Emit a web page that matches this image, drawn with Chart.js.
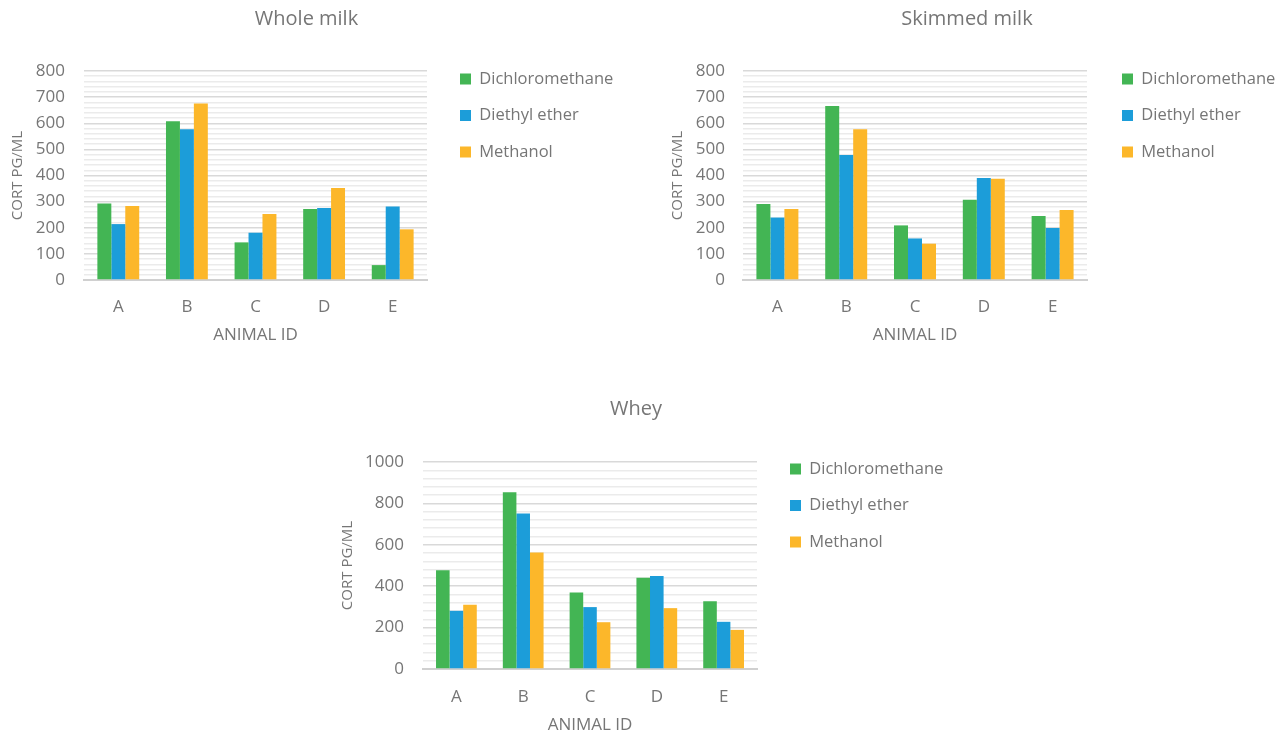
<!DOCTYPE html>
<html>
<head>
<meta charset="utf-8">
<title>CORT by extraction solvent</title>
<script src="https://cdn.jsdelivr.net/npm/chart.js@4/dist/chart.umd.min.js"></script>
<style>
  html, body { margin: 0; padding: 0; background: #ffffff; width: 1285px; height: 735px; overflow: hidden; position: relative; }
  canvas { position: absolute; }
</style>
</head>
<body>
<canvas id="wholeMilk"></canvas>
<canvas id="skimmedMilk"></canvas>
<canvas id="whey"></canvas>
<script>
// Categories and series
const animalIds = ['A', 'B', 'C', 'D', 'E'];
const solvents = ['Dichloromethane', 'Diethyl ether', 'Methanol'];

// CORT (pg/mL) — whole milk
const wholeDichloromethane = [293, 608, 144, 272, 57];
const wholeDiethylEther    = [214, 577, 181, 276, 281];
const wholeMethanol        = [283, 676, 253, 352, 194];

// CORT (pg/mL) — skimmed milk
const skimmedDichloromethane = [291, 666, 209, 307, 245];
const skimmedDiethylEther    = [239, 478, 159, 390, 199];
const skimmedMethanol        = [272, 577, 139, 388, 268];

// CORT (pg/mL) — whey
const wheyDichloromethane = [477, 854, 369, 441, 327];
const wheyDiethylEther    = [281, 751, 299, 449, 228];
const wheyMethanol        = [310, 563, 226, 294, 189];

// Value axis ranges: [max, labelled step, gridline step]
const milkAxis = [800, 100, 20];
const wheyAxis = [1000, 200, 40];

const palette = ['#43b554', '#1c9dd9', '#fcb72a'];
const TEXT = '#767676';
const FONT = '"Open Sans", "Noto Sans", sans-serif';

function buildChart(id, g, titleText, series, axis) {
  const [yMax, yMajor, yMinor] = axis;
  const canvas = document.getElementById(id);
  canvas.width = g.cw;
  canvas.height = g.ch;
  canvas.style.left = g.cl + 'px';
  canvas.style.top = g.ct + 'px';

  const titleSize = 20, titleLH = titleSize * 1.2;
  const yTitleSize = 15, yTitleLH = yTitleSize * 1.2;
  const tickSize = 17;
  const xTitleSize = 17, xTitleLH = xTitleSize * 1.2;
  const legendPad = 20, legendSize = 16.5;

  return new Chart(canvas, {
    type: 'bar',
    data: {
      labels: animalIds,
      datasets: series.map((values, i) => ({
        label: solvents[i],
        data: values,
        backgroundColor: palette[i],
        borderWidth: 0,
        categoryPercentage: 0.61,
        barPercentage: 1,
        xAxisID: 'x',
        yAxisID: 'y'
      }))
    },
    options: {
      responsive: false,
      animation: false,
      layout: { padding: 0 },
      plugins: {
        title: {
          display: true,
          text: titleText,
          color: TEXT,
          font: { family: FONT, size: titleSize, weight: 'normal' },
          padding: { top: g.titleY - g.ct - titleLH / 2, bottom: g.pt - g.titleY - titleLH / 2 }
        },
        legend: {
          position: 'chartArea',
          align: 'start',
          labels: {
            color: TEXT,
            font: { family: FONT, size: legendSize },
            boxWidth: 11,
            boxHeight: 11,
            padding: legendPad
          }
        },
        tooltip: { enabled: false }
      },
      scales: {
        x: {
          grid: { display: false },
          border: { display: true, color: '#d0d0d0', width: 2 },
          ticks: {
            color: TEXT,
            font: { family: FONT, size: tickSize },
            padding: g.xTickY - g.pb - 1.04 * tickSize,
            maxRotation: 0
          },
          title: {
            display: true,
            text: 'ANIMAL ID',
            color: TEXT,
            font: { family: FONT, size: xTitleSize },
            padding: { top: 0, bottom: g.ct + g.ch - g.xTitleY - xTitleLH / 2 }
          },
          afterFit: s => { s.height = g.ct + g.ch - g.pb; }
        },
        y: {
          min: 0,
          max: yMax,
          grid: {
            color: c => (c.tick && c.tick.value % yMajor === 0) ? '#d9d9d9' : '#ebebeb',
            lineWidth: 1.5,
            drawTicks: false
          },
          border: { display: false },
          ticks: {
            stepSize: yMinor,
            maxTicksLimit: 100,
            autoSkip: false,
            color: TEXT,
            font: { family: FONT, size: tickSize },
            padding: g.pl - g.yTickX,
            callback: v => (v % yMajor === 0 ? String(v) : '')
          },
          title: {
            display: true,
            text: 'CORT PG/ML',
            color: TEXT,
            font: { family: FONT, size: yTitleSize },
            padding: { top: g.yTitleX - g.cl - yTitleLH / 2, bottom: 0 }
          },
          afterFit: s => { s.width = g.pl - g.cl; }
        },
        // empty right-hand axis that reserves room for the legend column
        gap: {
          type: 'linear',
          position: 'right',
          display: true,
          grid: { display: false },
          border: { display: false },
          ticks: { display: false },
          afterFit: s => { s.width = g.cl + g.cw - g.pr; }
        }
      }
    },
    plugins: [{
      id: 'legendPlacement',
      afterLayout(chart) {
        const lg = chart.legend;
        if (!lg) return;
        lg.left = g.legendX - g.cl - legendPad;
        lg.top = g.legendY - g.ct - legendPad - legendSize / 2;
        lg.width = g.cl + g.cw - lg.left;
        lg.height = 160;
        lg.right = lg.left + lg.width;
        lg.bottom = lg.top + lg.height;
      }
    }]
  });
}

buildChart('wholeMilk', {
  cl: -10, cw: 633, ct: 0, ch: 360, titleY: 19,
  pl: 84, pr: 427, pt: 71, pb: 280,
  yTickX: 65, yTitleX: 18, xTickY: 307, xTitleY: 335,
  legendX: 460, legendY: 79
}, 'Whole milk', [wholeDichloromethane, wholeDiethylEther, wholeMethanol], milkAxis);

buildChart('skimmedMilk', {
  cl: 649, cw: 636, ct: 0, ch: 360, titleY: 19,
  pl: 743, pr: 1087, pt: 71, pb: 280,
  yTickX: 725, yTitleX: 678, xTickY: 307, xTitleY: 335,
  legendX: 1122, legendY: 79
}, 'Skimmed milk', [skimmedDichloromethane, skimmedDiethylEther, skimmedMethanol], milkAxis);

buildChart('whey', {
  cl: 320, cw: 632, ct: 390, ch: 345, titleY: 409,
  pl: 423, pr: 757, pt: 462, pb: 669,
  yTickX: 404, yTitleX: 348, xTickY: 697, xTitleY: 725,
  legendX: 790, legendY: 469
}, 'Whey', [wheyDichloromethane, wheyDiethylEther, wheyMethanol], wheyAxis);
</script>
</body>
</html>
